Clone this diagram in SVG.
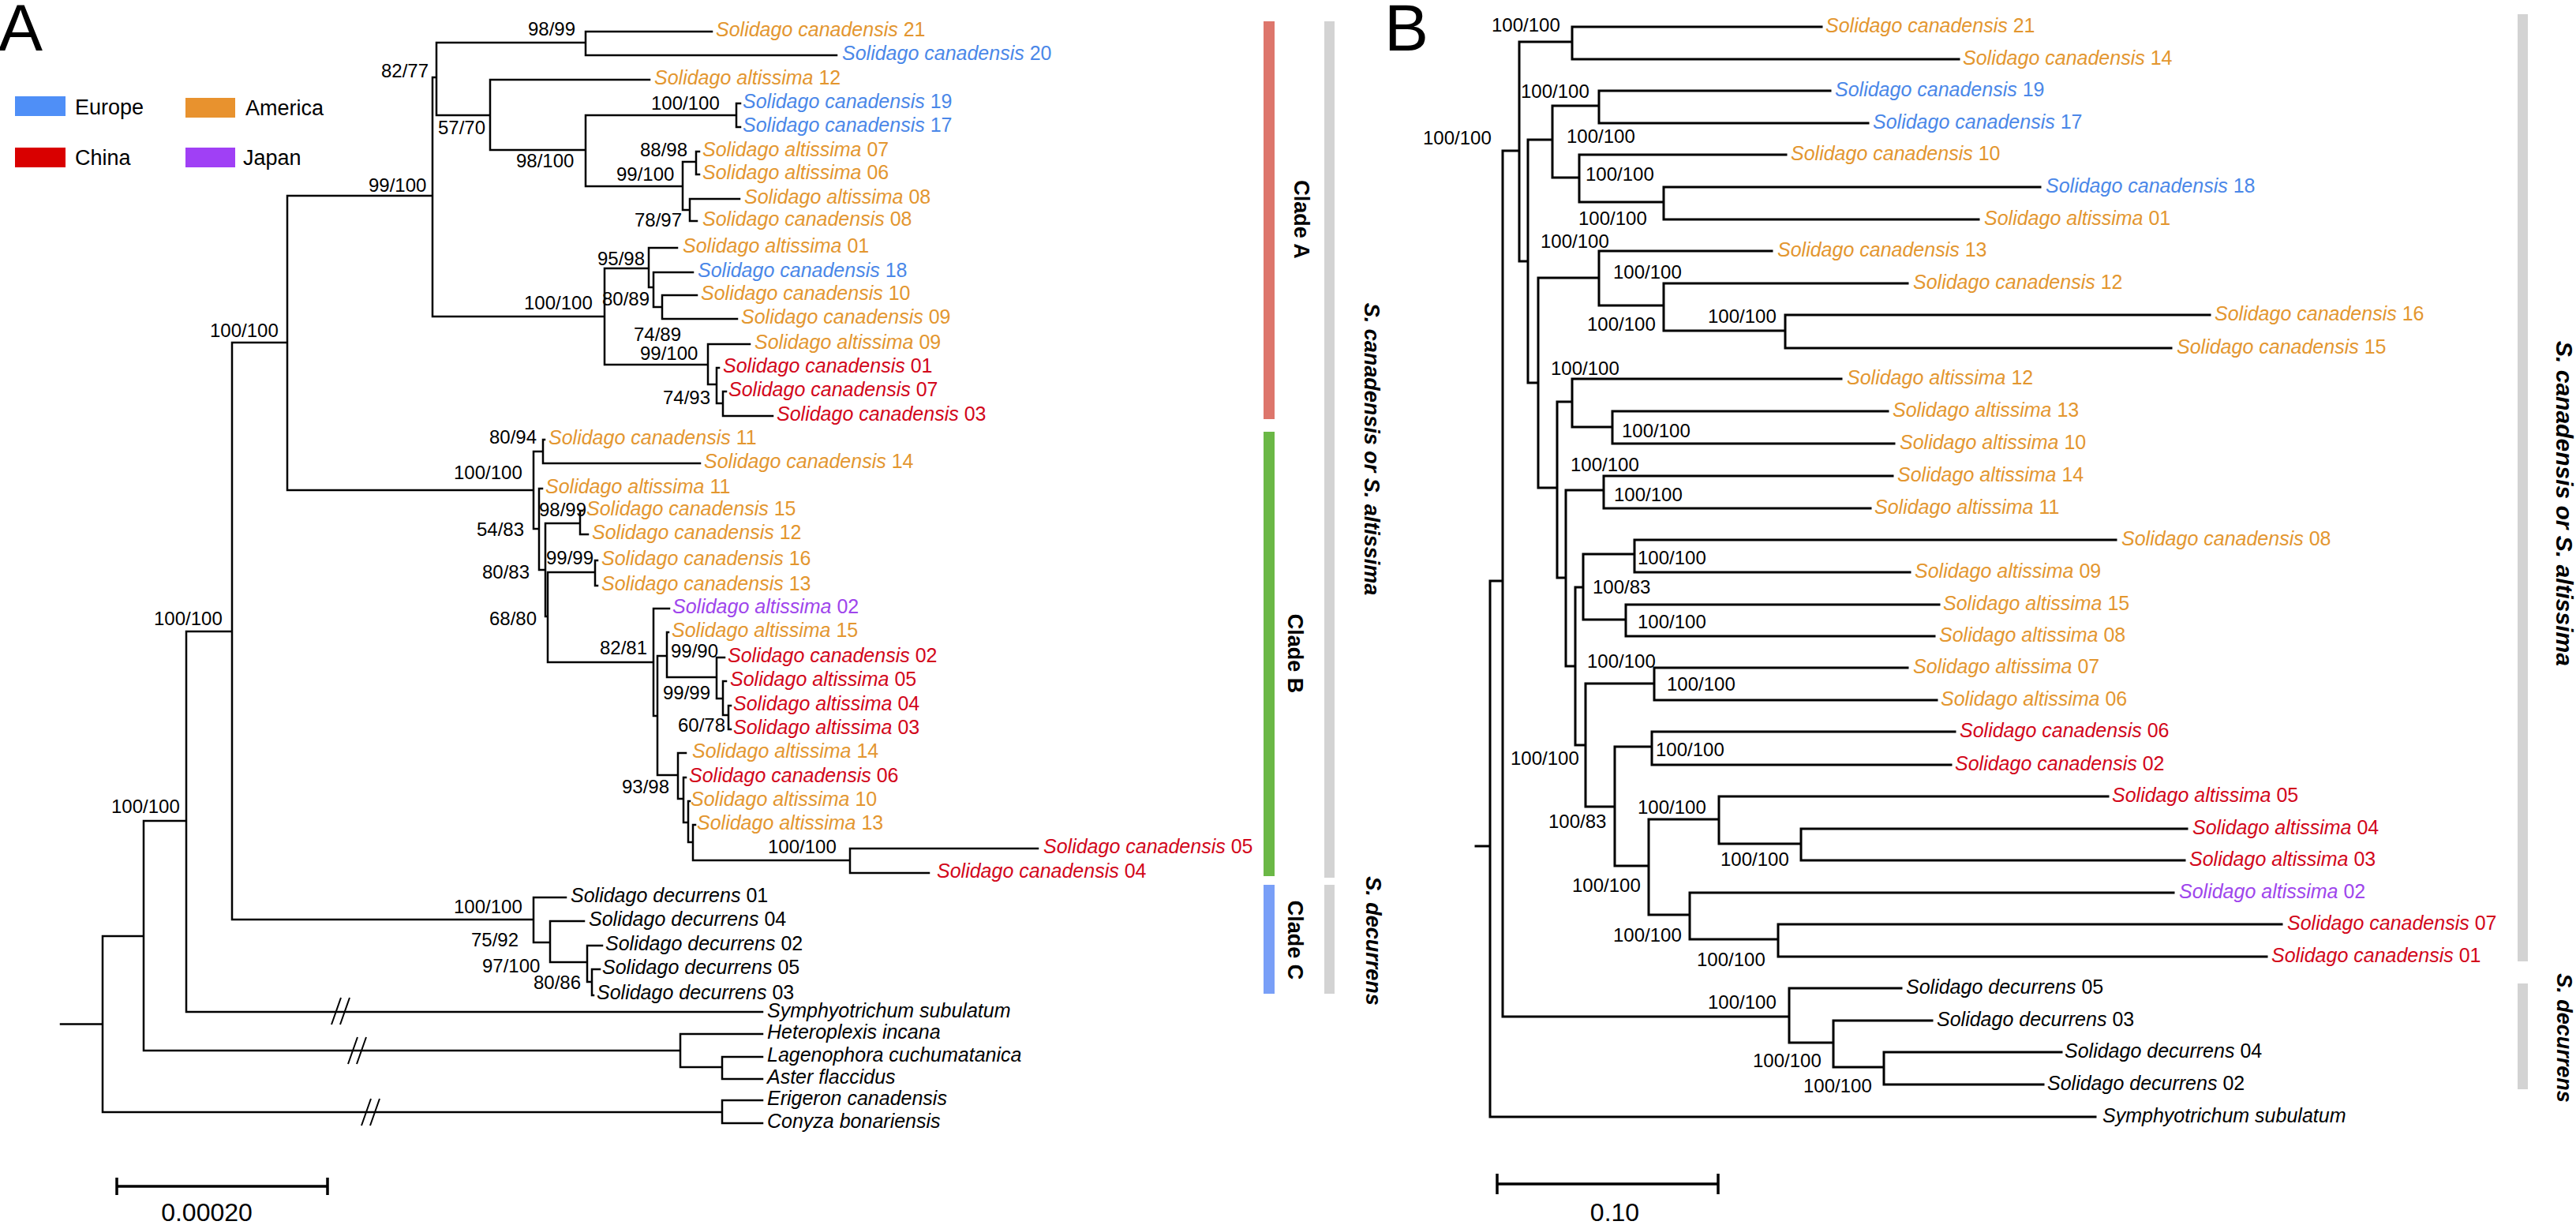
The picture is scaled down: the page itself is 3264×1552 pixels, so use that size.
<svg xmlns="http://www.w3.org/2000/svg" width="3264" height="1552" viewBox="0 0 3264 1552">
<style>
.t{font-family:"Liberation Sans",Arial,Helvetica,sans-serif}
.lf{font-size:25px;font-style:italic}
.n{font-style:normal}
.bs{font-size:24px;fill:#000}
.o{fill:#E3962F}.bl{fill:#4A87E8}.r{fill:#D2061A}.p{fill:#9E45EC}.k{fill:#000}
.tree{fill:none;stroke:#000;stroke-width:2.5;stroke-linecap:square}
.treeB{stroke-width:3}
.brk{fill:none;stroke:#000;stroke-width:2}
.sb{fill:none;stroke:#000;stroke-width:3.5}
.lg{font-size:27px;fill:#000}
.cl{font-size:27px;font-weight:bold;fill:#000}
.sp{font-size:27px;font-weight:bold;font-style:italic;fill:#000}
.big{font-size:84px;fill:#000}
.scl{font-size:32px;fill:#000}
</style>
<rect width="3264" height="1552" fill="#fff"/>

<!-- Panel letters -->
<g id="label-A"><text class="t big" x="-2" y="64">A</text></g>
<g id="label-B"><text class="t big" x="1754" y="64">B</text></g>

<!-- Legend -->
<g id="legend">
<g id="legend-europe"><rect x="19" y="122" width="64" height="25" fill="#4F8FF7"/><text class="t lg" x="95" y="145">Europe</text></g>
<g id="legend-america"><rect x="235" y="124" width="63" height="25" fill="#E8922E"/><text class="t lg" x="311" y="146">America</text></g>
<g id="legend-china"><rect x="19" y="187" width="64" height="25" fill="#D90000"/><text class="t lg" x="95" y="209">China</text></g>
<g id="legend-japan"><rect x="235" y="187" width="63" height="25" fill="#A040F5"/><text class="t lg" x="308" y="209">Japan</text></g>
</g>

<!-- Connectors panel A -->
<g id="connectors-A">
<path class="tree" d="M77 1297.5H130 M130 1186V1409 M130 1186H182 M130 1409H915 M182 1040V1331 M182 1040H236 M182 1331H862 M236 800V1282 M236 800H294 M236 1282H966 M294 434V1165 M294 434H364 M294 1165H676 M364 248V621 M364 248H548 M364 621H676
M548 98V401 M548 98H553 M548 401H766
M553 54V146 M553 54H742 M553 146H621
M742 40V70 M742 40H902 M742 70H1060
M621 101V190 M621 101H823 M621 190H742
M742 146V236 M742 146H933 M742 236H865
M933 131V161 M933 131H938 M933 161H938
M865 205V266 M865 205H882 M865 266H874
M882 192V221 M882 192H886 M882 221H886
M874 252V280 M874 252H937 M874 280H883
M766 340V462 M766 340H822 M766 462H897
M822 314V364 M822 314H858 M822 364H828
M828 345V389 M828 345H878 M828 389H839
M839 374V404 M839 374H883 M839 404H934
M897 436V487 M897 436H950 M897 487H908
M908 466V511 M908 466H911 M908 511H916
M916 496V527 M916 496H920 M916 527H979
M676 572V670 M676 572H688 M676 670H683
M688 557V587 M688 557H690 M688 587H887
M683 619V722 M683 619H687 M683 722H691
M691 663V781 M691 663H735 M691 781H694
M735 647V677 M735 647H738 M735 677H745
M694 725V839 M694 725H754 M694 839H828
M754 710V742 M754 710H757 M754 742H757
M828 771V907 M828 771H848 M828 907H833
M833 831V982 M833 831H845 M833 982H859
M845 801V858 M845 801H847 M845 858H908
M908 833V885 M908 833H918 M908 885H916
M916 863V906 M916 863H920 M916 906H923
M923 894V924 M923 894H926 M923 924H926
M859 954V1012 M859 954H869 M859 1012H866
M866 985V1042 M866 985H869 M866 1042H872
M872 1015V1067 M872 1015H874 M872 1067H878
M878 1045V1090 M878 1045H881 M878 1090H1077
M1077 1075V1106 M1077 1075H1315 M1077 1106H1177
M676 1137V1194 M676 1137H717 M676 1194H697
M697 1167V1219 M697 1167H740 M697 1219H744
M744 1198V1244 M744 1198H763 M744 1244H750
M750 1228V1261 M750 1228H760 M750 1261H752
M862 1310V1352 M862 1310H966 M862 1352H915
M915 1339V1367 M915 1339H966 M915 1367H966
M915 1394V1423 M915 1394H966 M915 1423H966"/>
<path class="brk" d="M420 1298L432 1264 M431 1298L443 1264 M441 1348L453 1314 M452 1348L464 1314 M458 1426L470 1392 M469 1426L481 1392"/>
</g>

<!-- Support values panel A -->
<g id="support-A" class="t bs">
<text x="669" y="45">98/99</text>
<text x="483" y="98">82/77</text>
<text x="555" y="170">57/70</text>
<text x="825" y="139">100/100</text>
<text x="654" y="212">98/100</text>
<text x="811" y="198">88/98</text>
<text x="781" y="229">99/100</text>
<text x="804" y="287">78/97</text>
<text x="467" y="243">99/100</text>
<text x="757" y="336">95/98</text>
<text x="763" y="387">80/89</text>
<text x="664" y="392">100/100</text>
<text x="803" y="432">74/89</text>
<text x="811" y="456">99/100</text>
<text x="840" y="512">74/93</text>
<text x="266" y="427">100/100</text>
<text x="575" y="607">100/100</text>
<text x="195" y="792">100/100</text>
<text x="141" y="1030">100/100</text>
<text x="620" y="562">80/94</text>
<text x="604" y="679">54/83</text>
<text x="683" y="654">98/99</text>
<text x="611" y="733">80/83</text>
<text x="692" y="715">99/99</text>
<text x="620" y="792">68/80</text>
<text x="760" y="829">82/81</text>
<text x="850" y="833">99/90</text>
<text x="840" y="886">99/99</text>
<text x="859" y="927">60/78</text>
<text x="788" y="1005">93/98</text>
<text x="973" y="1081">100/100</text>
<text x="575" y="1157">100/100</text>
<text x="597" y="1199">75/92</text>
<text x="611" y="1232">97/100</text>
<text x="676" y="1253">80/86</text>
</g>

<!-- Leaves panel A -->
<g id="leaves-A" class="t lf">
<g id="A-sc21"><text class="o" x="907" y="46">Solidago canadensis <tspan class="n">21</tspan></text></g>
<g id="A-sc20"><text class="bl" x="1067" y="76">Solidago canadensis <tspan class="n">20</tspan></text></g>
<g id="A-sa12"><text class="o" x="829" y="107">Solidago altissima <tspan class="n">12</tspan></text></g>
<g id="A-sc19"><text class="bl" x="941" y="137">Solidago canadensis <tspan class="n">19</tspan></text></g>
<g id="A-sc17"><text class="bl" x="941" y="167">Solidago canadensis <tspan class="n">17</tspan></text></g>
<g id="A-sa07"><text class="o" x="890" y="198">Solidago altissima <tspan class="n">07</tspan></text></g>
<g id="A-sa06"><text class="o" x="890" y="227">Solidago altissima <tspan class="n">06</tspan></text></g>
<g id="A-sa08"><text class="o" x="943" y="258">Solidago altissima <tspan class="n">08</tspan></text></g>
<g id="A-sc08"><text class="o" x="890" y="286">Solidago canadensis <tspan class="n">08</tspan></text></g>
<g id="A-sa01"><text class="o" x="865" y="320">Solidago altissima <tspan class="n">01</tspan></text></g>
<g id="A-sc18"><text class="bl" x="884" y="351">Solidago canadensis <tspan class="n">18</tspan></text></g>
<g id="A-sc10"><text class="o" x="888" y="380">Solidago canadensis <tspan class="n">10</tspan></text></g>
<g id="A-sc09"><text class="o" x="939" y="410">Solidago canadensis <tspan class="n">09</tspan></text></g>
<g id="A-sa09"><text class="o" x="956" y="442">Solidago altissima <tspan class="n">09</tspan></text></g>
<g id="A-sc01"><text class="r" x="916" y="472">Solidago canadensis <tspan class="n">01</tspan></text></g>
<g id="A-sc07"><text class="r" x="923" y="502">Solidago canadensis <tspan class="n">07</tspan></text></g>
<g id="A-sc03"><text class="r" x="984" y="533">Solidago canadensis <tspan class="n">03</tspan></text></g>
<g id="A-sc11"><text class="o" x="695" y="563">Solidago canadensis <tspan class="n">11</tspan></text></g>
<g id="A-sc14"><text class="o" x="892" y="593">Solidago canadensis <tspan class="n">14</tspan></text></g>
<g id="A-sa11"><text class="o" x="691" y="625">Solidago altissima <tspan class="n">11</tspan></text></g>
<g id="A-sc15"><text class="o" x="743" y="653">Solidago canadensis <tspan class="n">15</tspan></text></g>
<g id="A-sc12"><text class="o" x="750" y="683">Solidago canadensis <tspan class="n">12</tspan></text></g>
<g id="A-sc16"><text class="o" x="762" y="716">Solidago canadensis <tspan class="n">16</tspan></text></g>
<g id="A-sc13"><text class="o" x="762" y="748">Solidago canadensis <tspan class="n">13</tspan></text></g>
<g id="A-sa02"><text class="p" x="852" y="777">Solidago altissima <tspan class="n">02</tspan></text></g>
<g id="A-sa15"><text class="o" x="851" y="807">Solidago altissima <tspan class="n">15</tspan></text></g>
<g id="A-sc02"><text class="r" x="922" y="839">Solidago canadensis <tspan class="n">02</tspan></text></g>
<g id="A-sa05"><text class="r" x="925" y="869">Solidago altissima <tspan class="n">05</tspan></text></g>
<g id="A-sa04"><text class="r" x="929" y="900">Solidago altissima <tspan class="n">04</tspan></text></g>
<g id="A-sa03"><text class="r" x="929" y="930">Solidago altissima <tspan class="n">03</tspan></text></g>
<g id="A-sa14"><text class="o" x="877" y="960">Solidago altissima <tspan class="n">14</tspan></text></g>
<g id="A-sc06"><text class="r" x="873" y="991">Solidago canadensis <tspan class="n">06</tspan></text></g>
<g id="A-sa10"><text class="o" x="875" y="1021">Solidago altissima <tspan class="n">10</tspan></text></g>
<g id="A-sa13"><text class="o" x="883" y="1051">Solidago altissima <tspan class="n">13</tspan></text></g>
<g id="A-sc05"><text class="r" x="1322" y="1081">Solidago canadensis <tspan class="n">05</tspan></text></g>
<g id="A-sc04"><text class="r" x="1187" y="1112">Solidago canadensis <tspan class="n">04</tspan></text></g>
<g id="A-sd01"><text class="k" x="723" y="1143">Solidago decurrens <tspan class="n">01</tspan></text></g>
<g id="A-sd04"><text class="k" x="746" y="1173">Solidago decurrens <tspan class="n">04</tspan></text></g>
<g id="A-sd02"><text class="k" x="767" y="1204">Solidago decurrens <tspan class="n">02</tspan></text></g>
<g id="A-sd05"><text class="k" x="763" y="1234">Solidago decurrens <tspan class="n">05</tspan></text></g>
<g id="A-sd03"><text class="k" x="756" y="1266">Solidago decurrens <tspan class="n">03</tspan></text></g>
<g id="A-symph"><text class="k" x="972" y="1289">Symphyotrichum subulatum</text></g>
<g id="A-hetero"><text class="k" x="972" y="1316">Heteroplexis incana</text></g>
<g id="A-lageno"><text class="k" x="972" y="1345">Lagenophora cuchumatanica</text></g>
<g id="A-aster"><text class="k" x="972" y="1373">Aster flaccidus</text></g>
<g id="A-erig"><text class="k" x="972" y="1400">Erigeron canadensis</text></g>
<g id="A-conyza"><text class="k" x="972" y="1429">Conyza bonariensis</text></g>
</g>

<!-- Clade bars panel A -->
<g id="clades-A">
<g id="cladeA"><rect x="1601" y="27" width="14" height="504" fill="#DD766C"/><text class="t cl" x="1640" y="278" text-anchor="middle" transform="rotate(90 1640 278)">Clade A</text></g>
<g id="cladeB"><rect x="1601" y="547" width="14" height="563" fill="#6BB846"/><text class="t cl" x="1632" y="828" text-anchor="middle" transform="rotate(90 1632 828)">Clade B</text></g>
<g id="cladeC"><rect x="1601" y="1121" width="14" height="138" fill="#799FF7"/><text class="t cl" x="1632" y="1191" text-anchor="middle" transform="rotate(90 1632 1191)">Clade C</text></g>
<g id="speciesA1"><rect x="1678" y="27" width="13" height="1085" fill="#D3D3D3"/><text class="t sp" x="1729" y="569" text-anchor="middle" transform="rotate(90 1729 569)">S. canadensis or S. altissima</text></g>
<g id="speciesA2"><rect x="1678" y="1121" width="13" height="138" fill="#D3D3D3"/><text class="t sp" x="1731" y="1192" text-anchor="middle" transform="rotate(90 1731 1192)">S. decurrens</text></g>
</g>

<!-- Scale bar A -->
<g id="scale-A">
<path class="sb" d="M148 1503H415 M148 1492V1514 M415 1492V1514"/>
<text class="t scl" x="262" y="1547" text-anchor="middle">0.00020</text>
</g>

<!-- Connectors panel B -->
<g id="connectors-B">
<path class="tree treeB" d="M1870 1072H1888 M1888 736V1415 M1888 736H1904 M1888 1415H2655
M1904 191V1288 M1904 191H1925 M1904 1288H2267
M1925 53V331 M1925 53H1992 M1925 331H1936
M1992 34V75 M1992 34H2308 M1992 75H2482
M1936 177V485 M1936 177H1967 M1936 485H1949
M1967 134V225 M1967 134H2026 M1967 225H2001
M2026 115V156 M2026 115H2319 M2026 156H2367
M2001 196V256 M2001 196H2263 M2001 256H2108
M2108 237V278 M2108 237H2585 M2108 278H2507
M1949 352V618 M1949 352H2026 M1949 618H1973
M2026 318V387 M2026 318H2245 M2026 387H2108
M2108 359V419 M2108 359H2417 M2108 419H2262
M2262 399V441 M2262 399H2800 M2262 441H2751
M1973 509V732 M1973 509H1992 M1973 732H1984
M1992 480V541 M1992 480H2333 M1992 541H2043
M2043 521V562 M2043 521H2392 M2043 562H2400
M1984 621V844 M1984 621H2032 M1984 844H1996
M2032 603V644 M2032 603H2398 M2032 644H2370
M1996 744V944 M1996 744H2006 M1996 944H2009
M2006 702V785 M2006 702H2071 M2006 785H2060
M2071 684V725 M2071 684H2681 M2071 725H2420
M2060 766V806 M2060 766H2457 M2060 806H2451
M2009 866V1022 M2009 866H2096 M2009 1022H2046
M2096 846V887 M2096 846H2417 M2096 887H2454
M2046 946V1097 M2046 946H2093 M2046 1097H2089
M2093 927V969 M2093 927H2477 M2093 969H2472
M2089 1038V1159 M2089 1038H2178 M2089 1159H2141
M2178 1009V1069 M2178 1009H2671 M2178 1069H2282
M2282 1050V1090 M2282 1050H2771 M2282 1090H2768
M2141 1131V1190 M2141 1131H2754 M2141 1190H2253
M2253 1171V1212 M2253 1171H2891 M2253 1212H2872
M2267 1252V1321 M2267 1252H2409 M2267 1321H2323
M2323 1293V1352 M2323 1293H2448 M2323 1352H2387
M2387 1333V1374 M2387 1333H2612 M2387 1374H2589"/>
</g>

<!-- Support values panel B -->
<g id="support-B" class="t bs">
<text x="1803" y="183">100/100</text>
<text x="1890" y="40">100/100</text>
<text x="1927" y="124">100/100</text>
<text x="1985" y="181">100/100</text>
<text x="2009" y="229">100/100</text>
<text x="2000" y="285">100/100</text>
<text x="1952" y="314">100/100</text>
<text x="2044" y="353">100/100</text>
<text x="2164" y="409">100/100</text>
<text x="2011" y="419">100/100</text>
<text x="1965" y="475">100/100</text>
<text x="2055" y="554">100/100</text>
<text x="1990" y="597">100/100</text>
<text x="2045" y="635">100/100</text>
<text x="2075" y="715">100/100</text>
<text x="2018" y="752">100/83</text>
<text x="2075" y="796">100/100</text>
<text x="2011" y="846">100/100</text>
<text x="2112" y="875">100/100</text>
<text x="2098" y="958">100/100</text>
<text x="1914" y="969">100/100</text>
<text x="2075" y="1031">100/100</text>
<text x="1962" y="1049">100/83</text>
<text x="2180" y="1097">100/100</text>
<text x="1992" y="1130">100/100</text>
<text x="2044" y="1193">100/100</text>
<text x="2150" y="1224">100/100</text>
<text x="2164" y="1278">100/100</text>
<text x="2221" y="1352">100/100</text>
<text x="2285" y="1384">100/100</text>
</g>

<!-- Leaves panel B -->
<g id="leaves-B" class="t lf">
<g id="B-sc21"><text class="o" x="2313" y="41">Solidago canadensis <tspan class="n">21</tspan></text></g>
<g id="B-sc14"><text class="o" x="2487" y="82">Solidago canadensis <tspan class="n">14</tspan></text></g>
<g id="B-sc19"><text class="bl" x="2325" y="122">Solidago canadensis <tspan class="n">19</tspan></text></g>
<g id="B-sc17"><text class="bl" x="2373" y="163">Solidago canadensis <tspan class="n">17</tspan></text></g>
<g id="B-sc10"><text class="o" x="2269" y="203">Solidago canadensis <tspan class="n">10</tspan></text></g>
<g id="B-sc18"><text class="bl" x="2592" y="244">Solidago canadensis <tspan class="n">18</tspan></text></g>
<g id="B-sa01"><text class="o" x="2514" y="285">Solidago altissima <tspan class="n">01</tspan></text></g>
<g id="B-sc13"><text class="o" x="2252" y="325">Solidago canadensis <tspan class="n">13</tspan></text></g>
<g id="B-sc12"><text class="o" x="2424" y="366">Solidago canadensis <tspan class="n">12</tspan></text></g>
<g id="B-sc16"><text class="o" x="2806" y="406">Solidago canadensis <tspan class="n">16</tspan></text></g>
<g id="B-sc15"><text class="o" x="2758" y="448">Solidago canadensis <tspan class="n">15</tspan></text></g>
<g id="B-sa12"><text class="o" x="2340" y="487">Solidago altissima <tspan class="n">12</tspan></text></g>
<g id="B-sa13"><text class="o" x="2398" y="528">Solidago altissima <tspan class="n">13</tspan></text></g>
<g id="B-sa10"><text class="o" x="2407" y="569">Solidago altissima <tspan class="n">10</tspan></text></g>
<g id="B-sa14"><text class="o" x="2404" y="610">Solidago altissima <tspan class="n">14</tspan></text></g>
<g id="B-sa11"><text class="o" x="2375" y="651">Solidago altissima <tspan class="n">11</tspan></text></g>
<g id="B-sc08"><text class="o" x="2688" y="691">Solidago canadensis <tspan class="n">08</tspan></text></g>
<g id="B-sa09"><text class="o" x="2426" y="732">Solidago altissima <tspan class="n">09</tspan></text></g>
<g id="B-sa15"><text class="o" x="2462" y="773">Solidago altissima <tspan class="n">15</tspan></text></g>
<g id="B-sa08"><text class="o" x="2457" y="813">Solidago altissima <tspan class="n">08</tspan></text></g>
<g id="B-sa07"><text class="o" x="2424" y="853">Solidago altissima <tspan class="n">07</tspan></text></g>
<g id="B-sa06"><text class="o" x="2459" y="894">Solidago altissima <tspan class="n">06</tspan></text></g>
<g id="B-sc06"><text class="r" x="2483" y="934">Solidago canadensis <tspan class="n">06</tspan></text></g>
<g id="B-sc02"><text class="r" x="2477" y="976">Solidago canadensis <tspan class="n">02</tspan></text></g>
<g id="B-sa05"><text class="r" x="2676" y="1016">Solidago altissima <tspan class="n">05</tspan></text></g>
<g id="B-sa04"><text class="r" x="2778" y="1057">Solidago altissima <tspan class="n">04</tspan></text></g>
<g id="B-sa03"><text class="r" x="2774" y="1097">Solidago altissima <tspan class="n">03</tspan></text></g>
<g id="B-sa02"><text class="p" x="2761" y="1138">Solidago altissima <tspan class="n">02</tspan></text></g>
<g id="B-sc07"><text class="r" x="2898" y="1178">Solidago canadensis <tspan class="n">07</tspan></text></g>
<g id="B-sc01"><text class="r" x="2878" y="1219">Solidago canadensis <tspan class="n">01</tspan></text></g>
<g id="B-sd05"><text class="k" x="2415" y="1259">Solidago decurrens <tspan class="n">05</tspan></text></g>
<g id="B-sd03"><text class="k" x="2454" y="1300">Solidago decurrens <tspan class="n">03</tspan></text></g>
<g id="B-sd04"><text class="k" x="2616" y="1340">Solidago decurrens <tspan class="n">04</tspan></text></g>
<g id="B-sd02"><text class="k" x="2594" y="1381">Solidago decurrens <tspan class="n">02</tspan></text></g>
<g id="B-symph"><text class="k" x="2664" y="1422">Symphyotrichum subulatum</text></g>
</g>

<!-- Species bars panel B -->
<g id="species-B">
<g id="speciesB1"><rect x="3190" y="18" width="13" height="1200" fill="#D3D3D3"/><text class="t sp" style="font-size:30px" x="3239" y="638" text-anchor="middle" transform="rotate(90 3239 638)">S. canadensis or S. altissima</text></g>
<g id="speciesB2"><rect x="3190" y="1246" width="13" height="134" fill="#D3D3D3"/><text class="t sp" x="3240" y="1315" text-anchor="middle" transform="rotate(90 3240 1315)">S. decurrens</text></g>
</g>

<!-- Scale bar B -->
<g id="scale-B">
<path class="sb" d="M1897 1500H2177 M1897 1487V1513 M2177 1487V1513"/>
<text class="t scl" x="2046" y="1547" text-anchor="middle">0.10</text>
</g>
</svg>
